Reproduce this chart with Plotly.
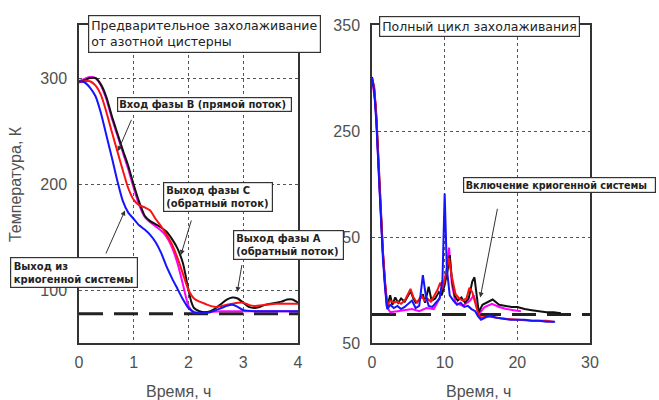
import plotly.graph_objects as go

# ---------------- data: left panel (pre-cooling from nitrogen tank) ----------------
left_black_x = [0, 0.1, 0.2, 0.3, 0.4, 0.5, 0.6, 0.7, 0.8, 0.9, 1.0, 1.1, 1.2, 1.3, 1.4, 1.5, 1.6, 1.7, 1.8, 1.9,
                2.0, 2.05, 2.1, 2.2, 2.3, 2.4, 2.5, 2.6, 2.7, 2.8, 2.9, 3.0, 3.1, 3.2, 3.3, 3.4, 3.5, 3.6, 3.7, 3.8, 3.9, 4.0]
left_black_y = [296, 298, 300, 300, 294, 282, 264, 248, 232, 217, 199, 183, 170, 165, 162, 159, 155, 148, 139, 125,
                100, 89, 83, 80, 79, 80, 83, 87, 91, 93, 92, 88, 84, 83, 84, 86, 87, 88, 89, 91, 91, 88]

left_magenta_x = [0, 0.2, 0.3, 0.4, 0.5, 0.6, 0.7, 0.8, 0.9, 1.0, 1.1, 1.2, 1.3, 1.4, 1.5, 1.6, 1.7, 1.8, 1.9,
                  2.0, 2.1, 2.3, 2.6, 3.0, 3.5, 4.0]
left_magenta_y = [297, 301, 300, 293, 280, 262, 246, 230, 214, 196, 180, 169, 164, 160, 156, 150, 140, 125, 105,
                  85, 79, 79, 80, 80, 80, 80]

left_red_x = [0, 0.1, 0.2, 0.3, 0.4, 0.5, 0.6, 0.7, 0.8, 0.9, 1.0, 1.1, 1.2, 1.3, 1.4, 1.5, 1.6, 1.7, 1.8, 1.9,
              2.0, 2.1, 2.2, 2.3, 2.4, 2.5, 2.6, 2.7, 2.8, 2.9, 3.0, 3.1, 3.2, 3.4, 3.6, 3.8, 4.0]
left_red_y = [296, 297, 297, 293, 284, 268, 249, 231, 213, 196, 185, 180, 178, 175, 167, 160, 152, 143, 130, 115,
              100, 92, 89, 87, 85, 84, 85, 86, 87, 88, 88, 86, 85, 86, 87, 87, 87]

left_blue_x = [0, 0.1, 0.2, 0.3, 0.4, 0.5, 0.6, 0.7, 0.8, 0.9, 1.0, 1.1, 1.2, 1.3, 1.4, 1.5, 1.6, 1.7, 1.8, 1.9,
               2.0, 2.1, 2.2, 2.4, 2.5, 2.6, 2.7, 2.8, 2.9, 3.0, 3.2, 3.5, 3.8, 4.0]
left_blue_y = [297, 296, 291, 283, 267, 246, 225, 203, 184, 173, 167, 161, 157, 152, 145, 135, 122, 111, 101, 91,
               83, 79, 78, 79, 81, 83, 85, 86, 84, 81, 80, 80, 80, 80]

left_ref_x = [0, 4]
left_ref_y = [77.5, 77.5]

# ---------------- data: right panel (full cooling cycle) ----------------
right_black_x = [0, 0.3, 0.6, 0.9, 1.2, 1.5, 1.8, 2.1, 2.5, 2.8, 3.2, 3.6, 4.0, 4.5, 5.0, 5.3, 5.7, 6.0, 6.5, 7.0,
                 7.3, 7.8, 8.2, 8.7, 9.2, 9.6, 10.0, 10.4, 10.7, 11.0, 11.4, 11.8, 12.3, 12.8, 13.3, 13.8, 14.1,
                 14.4, 14.7, 15.2, 16.0, 16.6, 17.5, 18.3, 19.2, 20.0, 21.0, 22.0, 23.0, 24.0, 25.0, 26.0]
right_black_y = [301, 290, 262, 215, 170, 135, 105, 84, 95, 86, 93, 88, 92, 89, 95, 99, 92, 88, 90, 96,
                 88, 103, 90, 92, 98, 95, 105, 118, 133, 110, 94, 90, 93, 88, 92, 108, 112,
                 95, 79, 86, 89, 91, 86, 85, 84, 84, 82, 81, 80, 79, 79, 78]

right_magenta_x = [0, 0.5, 1.0, 1.5, 2.0, 2.5, 3.5, 4.5, 5.5, 6.5, 7.5, 8.5, 9.3, 9.8, 10.2, 10.6, 11.0, 11.5,
                   12.5, 13.5, 14.0, 14.4, 14.8, 15.5, 16.5, 17.5, 18.5, 19.5, 20.5]
right_magenta_y = [299, 275, 200, 135, 85, 79, 80, 81, 82, 80, 83, 82, 92, 105, 115, 140, 105, 88,
                   85, 90, 95, 85, 78, 84, 87, 84, 82, 81, 80]

right_red_x = [0, 0.3, 0.6, 0.9, 1.2, 1.5, 1.8, 2.1, 2.5, 3.0, 3.5, 4.0, 4.5, 5.0, 5.3, 5.7, 6.2, 6.8, 7.2, 7.6,
               8.1, 8.6, 9.0, 9.4, 9.7, 10.0, 10.3, 10.6, 11.0, 11.5, 12.0, 12.5, 13.0, 13.4, 13.8, 14.2, 14.6,
               15.0, 16.0, 18.0, 20.0, 22.0, 24.0, 25.0]
right_red_y = [299, 292, 265, 218, 172, 137, 108, 86, 90, 88, 89, 87, 90, 97, 101, 93, 88, 95, 90, 92,
               89, 95, 100, 107, 102, 110, 122, 130, 112, 96, 92, 90, 92, 102, 98, 88, 78,
               74, 75, 73, 72, 71, 71, 70]

right_blue_x = [0, 0.3, 0.6, 0.9, 1.2, 1.5, 1.8, 2.1, 2.5, 3.0, 3.5, 4.0, 4.5, 5.0, 5.5, 6.0, 6.5, 7.0, 7.4, 7.8,
                8.3, 8.8, 9.3, 9.7, 10.0, 10.3, 10.7, 11.2, 11.7, 12.2, 12.7, 13.2, 13.7, 14.2, 14.6, 15.0,
                15.5, 16.2, 17.0, 18.0, 19.0, 20.0, 21.0, 22.0, 23.0, 24.0, 25.2]
right_blue_y = [300, 288, 258, 210, 165, 130, 102, 82, 86, 83, 85, 82, 84, 87, 90, 83, 85, 114, 95, 85,
                84, 88, 92, 110, 191, 120, 95, 90, 86, 88, 84, 85, 82, 80, 75, 72,
                74, 76, 74, 73, 72, 72, 72, 71, 71, 70, 70]

right_ref_x = [0, 30]
right_ref_y = [77, 77]

left_xticks = [0, 1, 2, 3, 4]
left_yticks = [100, 200, 300]
right_xticks = [0, 10, 20, 30]
right_yticks = [50, 150, 250, 350]
right_yticklabels = ["50", "150", "250", "350"]

y_title = "Температура, К"
x_title = "Время, ч"
title_left = "Предварительное захолаживание<br>от азотной цистерны"
title_right = "Полный цикл захолаживания"
note_b = "Вход фазы B (прямой поток)"
note_c = "Выход фазы С<br>(обратный поток)"
note_a = "Выход фазы А<br>(обратный поток)"
note_cryo_out = "Выход из<br>криогенной системы"
note_cryo_on = "Включение криогенной системы"

# ---------------- figure ----------------
W, H = 659, 400


def px(x):
    return x / W


def py(y):
    return 1 - y / H


fig = go.Figure()

LW = 2
COLORS = {"black": "#111111", "magenta": "#ff00ff", "red": "#ff1010", "blue": "#1414ff"}

fig.add_trace(go.Scatter(x=left_ref_x, y=left_ref_y, mode="lines",
                         line=dict(color="#222222", width=3, dash="24px,11px"), xaxis="x", yaxis="y"))
fig.add_trace(go.Scatter(x=right_ref_x, y=right_ref_y, mode="lines",
                         line=dict(color="#222222", width=3, dash="24px,11px"), xaxis="x2", yaxis="y2"))

for xs, ys, c in [(left_magenta_x, left_magenta_y, "magenta"), (left_black_x, left_black_y, "black"),
                  (left_red_x, left_red_y, "red"), (left_blue_x, left_blue_y, "blue")]:
    fig.add_trace(go.Scatter(x=xs, y=ys, mode="lines", line=dict(color=COLORS[c], width=LW, shape="spline",
                                                                  smoothing=0.6),
                             xaxis="x", yaxis="y"))

for xs, ys, c in [(right_magenta_x, right_magenta_y, "magenta"), (right_black_x, right_black_y, "black"),
                  (right_red_x, right_red_y, "red"), (right_blue_x, right_blue_y, "blue")]:
    fig.add_trace(go.Scatter(x=xs, y=ys, mode="lines", line=dict(color=COLORS[c], width=LW),
                             xaxis="x2", yaxis="y2"))

tickfont = dict(family="Liberation Sans, Arial, sans-serif", size=16, color="#505050")
axis_common = dict(showline=True, linecolor="#333333", linewidth=1.5, mirror=True,
                   showgrid=True, gridcolor="#555555", gridwidth=1, griddash="dot",
                   zeroline=False, ticks="", tickfont=tickfont, automargin=False, fixedrange=True)

fig.update_layout(
    width=W, height=H, margin=dict(l=0, r=0, t=0, b=0),
    paper_bgcolor="white", plot_bgcolor="white", showlegend=False,
    xaxis=dict(domain=[px(79), px(298)], range=[0, 4], tickvals=left_xticks, anchor="y",
               ticklabelstandoff=4, **axis_common),
    yaxis=dict(domain=[py(343), py(25)], range=[50, 350], tickvals=left_yticks, anchor="x",
               ticklabelstandoff=7, **axis_common),
    xaxis2=dict(domain=[px(372), px(590)], range=[0, 30], tickvals=right_xticks, anchor="y2",
                ticklabelstandoff=4, **axis_common),
    yaxis2=dict(domain=[py(343), py(25)], range=[50, 350], tickvals=right_yticks,
                ticktext=right_yticklabels, anchor="x2", ticklabelstandoff=7, **axis_common),
)

ann = []
titlefont = dict(family="Liberation Sans, Arial, sans-serif", size=16, color="#505050")
ann.append(dict(text=y_title, textangle=-90, x=px(15), y=py(184), xref="paper", yref="paper",
                showarrow=False, font=titlefont, xanchor="center", yanchor="middle"))
ann.append(dict(text=x_title, x=px(179), y=py(391), xref="paper", yref="paper",
                showarrow=False, font=titlefont, xanchor="center", yanchor="middle"))
ann.append(dict(text=x_title, x=px(478), y=py(391), xref="paper", yref="paper",
                showarrow=False, font=titlefont, xanchor="center", yanchor="middle"))

boxfont = dict(family="DejaVu Sans, sans-serif", size=12.5, color="#222222")
smallfont = dict(family="DejaVu Sans, sans-serif", size=10, color="#222222", weight="bold")
smallfont2 = dict(family="DejaVu Sans, sans-serif", size=9.6, color="#222222", weight="bold")


def box(text, x0, y0, font, width=None, align="left", pad=2):
    d = dict(text=text, x=px(x0), y=py(y0), xref="paper", yref="paper", showarrow=False,
             xanchor="left", yanchor="top", align=align, font=font, bgcolor="white",
             bordercolor="#333333", borderwidth=1.2, borderpad=pad)
    if width is not None:
        d["width"] = width
    return d


ann.append(box(title_left, 88, 15, boxfont))
ann.append(box(title_right, 379, 16, boxfont))
ann.append(box(note_b, 117, 97, smallfont, width=171, pad=1))
ann.append(box(note_c, 163, 182, smallfont, width=104, pad=2))
ann.append(box(note_a, 233, 230, smallfont, width=105, pad=2))
ann.append(box(note_cryo_out, 10, 257, smallfont, width=121, pad=2.5))
ann.append(box(note_cryo_on, 463, 177, smallfont2, width=188, pad=1.5))


def arrow(xh, yh, xt, yt, xa, ya):
    return dict(text="", x=xh, y=yh, ax=xt, ay=yt, xref=xa, yref=ya, axref=xa, ayref=ya,
                showarrow=True, arrowhead=2, arrowsize=1, arrowwidth=1, arrowcolor="#333333", standoff=0)


ann.append(arrow(0.71, 231, 0.97, 262, "x", "y"))
ann.append(arrow(1.86, 133, 2.06, 167, "x", "y"))
ann.append(arrow(2.89, 98, 2.98, 125, "x", "y"))
ann.append(arrow(0.84, 175, 0.48, 133, "x", "y"))
ann.append(arrow(14.9, 93, 17.3, 178, "x2", "y2"))

fig.update_layout(annotations=ann)

fig.write_html("out.html")
